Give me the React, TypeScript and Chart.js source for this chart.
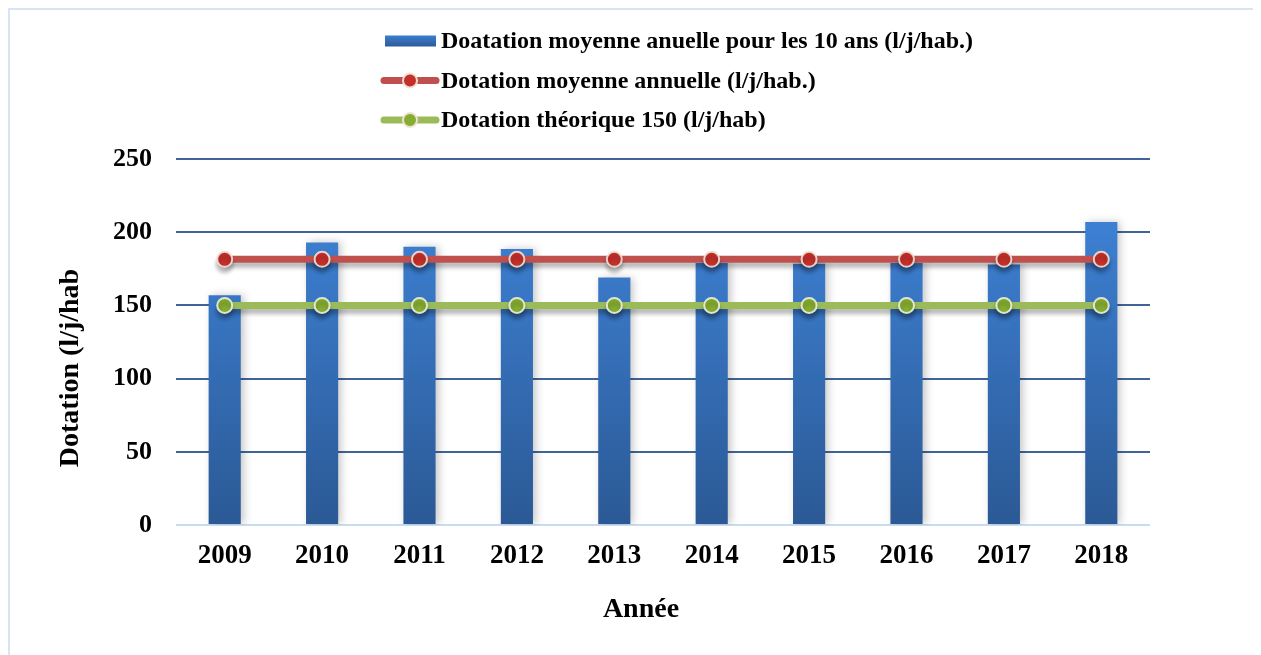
import React, { useEffect, useRef } from "react";
import { Chart, registerables } from "chart.js";

Chart.register(...registerables);

const years = ["2009", "2010", "2011", "2012", "2013", "2014", "2015", "2016", "2017", "2018"];
const dotationAnnuelle = [157, 193, 190, 188.5, 169, 179, 178.5, 179, 178, 207];
const dotationMoyenne = [181.5, 181.5, 181.5, 181.5, 181.5, 181.5, 181.5, 181.5, 181.5, 181.5];
const dotationTheorique = [150, 150, 150, 150, 150, 150, 150, 150, 150, 150];
const yMin = 0;
const yMax = 250;
const yStep = 50;

const labelBars = "Doatation moyenne anuelle pour les 10 ans (l/j/hab.)";
const labelMoy = "Dotation moyenne annuelle (l/j/hab.)";
const labelTheo = "Dotation théorique 150 (l/j/hab)";
const xTitle = "Année";
const yTitle = "Dotation (l/j/hab";

const FONT = "'Liberation Serif', 'Times New Roman', serif";
const BLUE_TOP = "#3d80d3";
const BLUE_BOTTOM = "#2b5995";
const RED = "#c0504d";
const RED_PT = "#c4302b";
const GREEN = "#9bbb59";
const GREEN_PT = "#86ad31";

function barGradient(ctx: CanvasRenderingContext2D, top: number, bottom: number) {
  const g = ctx.createLinearGradient(0, top, 0, bottom);
  g.addColorStop(0, BLUE_TOP);
  g.addColorStop(1, BLUE_BOTTOM);
  return g;
}

const shadowPlugin = {
  id: "shadows",
  beforeDatasetDraw(chart: any, args: any) {
    const ctx = chart.ctx;
    ctx.save();
    if (args.meta.type === "bar") {
      ctx.shadowColor = "rgba(0,0,0,0.22)";
      ctx.shadowBlur = 8;
      ctx.shadowOffsetX = 3;
      ctx.shadowOffsetY = 0;
    } else {
      ctx.shadowColor = "rgba(0,0,0,0.28)";
      ctx.shadowBlur = 4;
      ctx.shadowOffsetX = 0;
      ctx.shadowOffsetY = 5;
    }
  },
  afterDatasetDraw(chart: any) {
    chart.ctx.restore();
  },
};

const legendPlugin = {
  id: "customLegend",
  afterDraw(chart: any) {
    const ctx: CanvasRenderingContext2D = chart.ctx;
    const x0 = 375;
    const y0 = 31;
    const dy = 39.5;
    const ds = chart.data.datasets;
    ctx.save();
    ctx.font = `bold 24px ${FONT}`;
    ctx.textBaseline = "middle";
    ctx.textAlign = "left";
    ctx.fillStyle = barGradient(ctx, y0 - 6, y0 + 6);
    ctx.fillRect(x0, y0 - 5.5, 51, 11);
    ctx.fillStyle = "#000";
    ctx.fillText(ds[0].label, x0 + 56, y0 + 1);
    const items = [
      { label: ds[1].label, line: RED, pt: RED_PT, y: y0 + dy },
      { label: ds[2].label, line: GREEN, pt: GREEN_PT, y: y0 + 2 * dy },
    ];
    for (const it of items) {
      ctx.strokeStyle = it.line;
      ctx.lineWidth = 7;
      ctx.lineCap = "round";
      ctx.beginPath();
      ctx.moveTo(x0 - 1, it.y);
      ctx.lineTo(x0 + 51, it.y);
      ctx.stroke();
      ctx.beginPath();
      ctx.arc(x0 + 25, it.y, 7, 0, Math.PI * 2);
      ctx.fillStyle = it.pt;
      ctx.fill();
      ctx.lineWidth = 2;
      ctx.strokeStyle = "rgba(240,228,215,0.95)";
      ctx.stroke();
      ctx.fillStyle = "#000";
      ctx.fillText(it.label, x0 + 56, it.y + 1);
    }
    ctx.restore();
  },
};

const axisTitlePlugin = {
  id: "axisTitles",
  afterDraw(chart: any) {
    const ctx: CanvasRenderingContext2D = chart.ctx;
    const a = chart.chartArea;
    ctx.save();
    ctx.font = `bold 28px ${FONT}`;
    ctx.fillStyle = "#000";
    ctx.textAlign = "center";
    ctx.textBaseline = "middle";
    ctx.fillText(xTitle, (a.left + a.right) / 2 - 22, a.bottom + 85);
    ctx.translate(61, (a.top + a.bottom) / 2 + 26);
    ctx.rotate(-Math.PI / 2);
    ctx.fillText(yTitle, 0, 0);
    ctx.restore();
  },
};

export default function App() {
  const ref = useRef<HTMLCanvasElement | null>(null);

  useEffect(() => {
    if (!ref.current) return;
    const chart = new Chart(ref.current, {
      type: "bar",
      data: {
        labels: years,
        datasets: [
          {
            type: "bar",
            label: labelBars,
            data: dotationAnnuelle,
            order: 3,
            backgroundColor: (c: any) => {
              const area = c.chart.chartArea;
              if (!area) return BLUE_TOP;
              return barGradient(c.chart.ctx, area.top + 60, area.bottom);
            },
            borderWidth: 0,
            barPercentage: 0.33,
            categoryPercentage: 1,
          },
          {
            type: "line",
            label: labelMoy,
            data: dotationMoyenne,
            order: 1,
            borderColor: RED,
            borderWidth: 7,
            pointRadius: 7.5,
            pointBorderWidth: 2,
            pointBackgroundColor: RED_PT,
            pointBorderColor: "rgba(240,225,215,0.9)",
            tension: 0,
          },
          {
            type: "line",
            label: labelTheo,
            data: dotationTheorique,
            order: 2,
            borderColor: GREEN,
            borderWidth: 7,
            pointRadius: 7.5,
            pointBorderWidth: 2,
            pointBackgroundColor: GREEN_PT,
            pointBorderColor: "rgba(235,240,220,0.9)",
            tension: 0,
          },
        ],
      } as any,
      options: {
        responsive: false,
        animation: false,
        devicePixelRatio: 1,
        layout: { padding: { top: 149, left: 0, right: 107, bottom: 0 } },
        plugins: {
          legend: { display: false },
          tooltip: { enabled: false },
        },
        scales: {
          x: {
            grid: { display: false, drawTicks: false },
            border: { display: false },
            ticks: {
              color: "#000",
              padding: 15,
              font: { family: FONT, size: 27, weight: "bold" },
            },
            afterFit: (s: any) => {
              s.height = 130;
            },
          },
          y: {
            min: yMin,
            max: yMax,
            grid: {
              drawTicks: false,
              lineWidth: 2,
              color: (c: any) => (c.tick && c.tick.value === 0 ? "#c8dcf2" : "#3f6598"),
            },
            border: { display: false },
            ticks: {
              stepSize: yStep,
              color: "#000",
              padding: 24,
              font: { family: FONT, size: 26, weight: "bold" },
            },
            afterFit: (s: any) => {
              s.width = 166;
            },
          },
        },
      } as any,
      plugins: [shadowPlugin, legendPlugin, axisTitlePlugin],
    });
    return () => chart.destroy();
  }, []);

  return (
    <div
      style={{
        border: "2px solid #d6e4f5",
        width: 1247,
        height: 645,
        background: "#fff",
      }}
    >
      <canvas ref={ref} width={1247} height={645} style={{ display: "block" }} />
    </div>
  );
}
